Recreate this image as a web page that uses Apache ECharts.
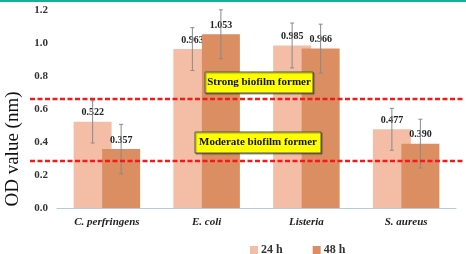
<!DOCTYPE html>
<html><head><meta charset="utf-8">
<script src="https://cdn.jsdelivr.net/npm/echarts@6/dist/echarts.min.js"></script>
<style>html,body{margin:0;padding:0;background:#fff}#c{width:466px;height:254px}</style>
</head><body><div id="c"></div>
<script>
const categories = ['C. perfringens', 'E. coli', 'Listeria', 'S. aureus'];
const seriesNames = ['24 h', '48 h'];
const values24 = [0.522, 0.963, 0.985, 0.477];
const values48 = [0.357, 1.053, 0.966, 0.390];
const err24 = [0.128, 0.130, 0.136, 0.127];
const err48 = [0.150, 0.148, 0.148, 0.148];
const thresholds = [0.66, 0.285];
const thresholdLabels = ['Strong biofilm former', 'Moderate biofilm former'];

const FONT = "'Liberation Serif','Times New Roman',serif";
const BAR_W = 38, GAP = -0.25;
const OFFSET = (BAR_W + BAR_W * GAP) / 2;

function errSeries(vals, errs, sign) {
  return {
    type: 'custom', z: 5, silent: true,
    data: vals.map((v, i) => [i, v, errs[i]]),
    renderItem: function (params, api) {
      const i = api.value(0), v = api.value(1), e = api.value(2);
      const top = api.coord([i, v + e]);
      const bot = api.coord([i, v - e]);
      const x = top[0] + sign * OFFSET;
      const st = { stroke: '#8a8a8a', lineWidth: 1 };
      return { type: 'group', children: [
        { type: 'line', shape: { x1: x, y1: top[1], x2: x, y2: bot[1] }, style: st },
        { type: 'line', shape: { x1: x - 2, y1: top[1], x2: x + 2, y2: top[1] }, style: st },
        { type: 'line', shape: { x1: x - 2, y1: bot[1], x2: x + 2, y2: bot[1] }, style: st }
      ]};
    }
  };
}

const chart = echarts.init(document.getElementById('c'));
const labelStyle = { show: true, position: 'top', distance: 4, fontFamily: FONT, fontWeight: 'bold', fontSize: 10, color: '#222', formatter: p => p.value.toFixed(3) };
chart.setOption({
  animation: false,
  grid: { left: 57, right: 10, top: 10, bottom: 46 },
  legend: {
    data: seriesNames, left: 245, top: 239, itemWidth: 8, itemHeight: 8, itemGap: 30,
    icon: 'rect',
    textStyle: { fontFamily: FONT, fontWeight: 'bold', fontSize: 12, color: '#333', padding: [0, 0, 0, -2] }
  },
  xAxis: {
    type: 'category', data: categories,
    axisLine: { lineStyle: { color: '#bcc8d8', width: 1 } },
    axisTick: { show: false },
    axisLabel: { fontFamily: FONT, fontStyle: 'italic', fontWeight: 'bold', fontSize: 11, color: '#222', margin: 9 }
  },
  yAxis: {
    type: 'value', min: 0, max: 1.2, interval: 0.2,
    splitLine: { show: false },
    axisLine: { show: false }, axisTick: { show: false },
    axisLabel: { fontFamily: FONT, fontWeight: 'bold', fontSize: 11, color: '#333', margin: 9, formatter: v => v.toFixed(1) }
  },
  series: [
    { name: seriesNames[0], type: 'bar', data: values24, barWidth: BAR_W, barGap: (GAP * 100) + '%',
      itemStyle: { color: '#f4bea6' }, label: labelStyle, z: 2 },
    { name: seriesNames[1], type: 'bar', data: values48, barWidth: BAR_W,
      itemStyle: { color: '#da8e62' }, label: labelStyle, z: 3 },
    errSeries(values24, err24, -1),
    errSeries(values48, err48, 1)
  ]
});

const lineGraphics = thresholds.map(t => {
  const y = chart.convertToPixel({ yAxisIndex: 0 }, t);
  return { type: 'line', z: 50, shape: { x1: 30, y1: y, x2: 464, y2: y },
    style: { stroke: '#f01c1c', lineWidth: 2.5, lineDash: [5, 2.5] } };
});
const boxGraphics = [];
[
  { cx: 259, cy: 82.5, w: 108, h: 21 },
  { cx: 258, cy: 142.5, w: 126, h: 21 }
].forEach((b, i) => {
  boxGraphics.push({ type: 'rect', z: 100, zlevel: 1, shape: { x: b.cx - b.w / 2, y: b.cy - b.h / 2, width: b.w, height: b.h },
    style: { fill: '#ffff00', stroke: '#555', lineWidth: 1, shadowColor: 'rgba(0,0,0,0.35)', shadowOffsetX: 1, shadowOffsetY: 1, shadowBlur: 1 } });
  boxGraphics.push({ type: 'text', z: 101, zlevel: 1, x: b.cx, y: b.cy, style: { text: thresholdLabels[i], align: 'center', verticalAlign: 'middle',
    font: "bold 11px " + FONT, fill: '#111' } });
});
chart.setOption({
  graphic: [
    { type: 'rect', shape: { x: 0, y: 0, width: 466, height: 2 }, style: { fill: '#16b09a' } },
    { type: 'text', x: 13, y: 149, rotation: Math.PI / 2,
      style: { text: 'OD value (nm)', align: 'center', verticalAlign: 'middle', font: "19px " + FONT, fill: '#111' } }
  ].concat(lineGraphics, boxGraphics)
});
</script></body></html>
